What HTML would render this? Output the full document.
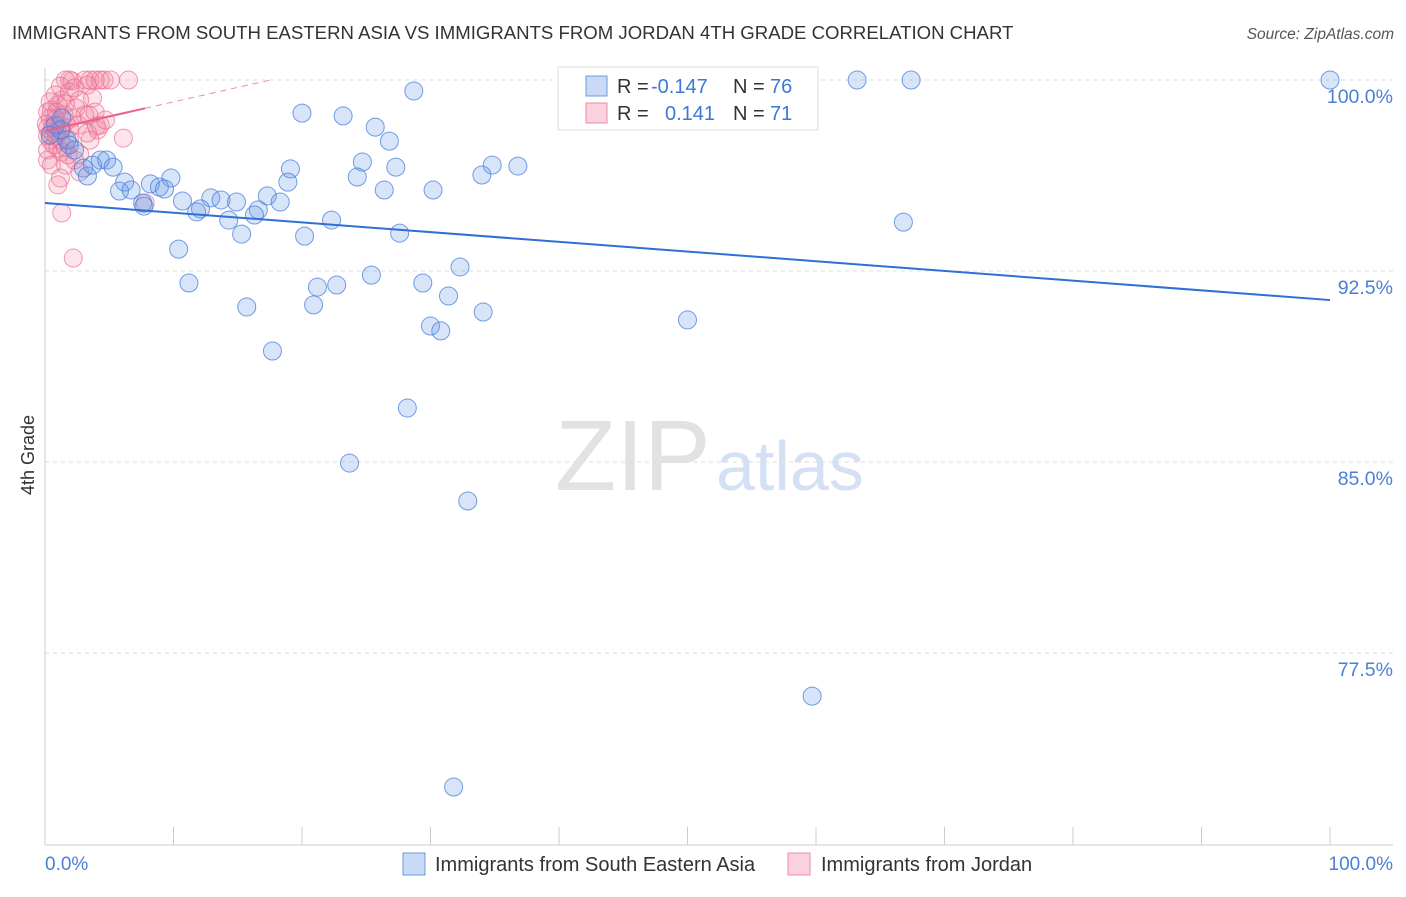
<!DOCTYPE html>
<html><head><meta charset="utf-8"><style>
body{margin:0;background:#fff;font-family:"Liberation Sans",sans-serif;}
svg text{font-family:"Liberation Sans",sans-serif;}
</style></head><body>
<svg id="chart" width="1406" height="892" xmlns="http://www.w3.org/2000/svg">
<text x="12" y="39" font-size="18.6" fill="#333">IMMIGRANTS FROM SOUTH EASTERN ASIA VS IMMIGRANTS FROM JORDAN 4TH GRADE CORRELATION CHART</text>
<text x="1394" y="39" font-size="15.5" fill="#555" font-style="italic" text-anchor="end">Source: ZipAtlas.com</text>
<text x="555" y="490" font-size="100" fill="#e2e2e2" font-family="Liberation Serif">ZIP</text>
<text x="716" y="490" font-size="70" fill="#d4e1f5">atlas</text>
<text transform="translate(34,455) rotate(-90)" font-size="18" fill="#333" text-anchor="middle">4th Grade</text>
<g id="grid"></g><g id="marks"></g>
<g>
<rect x="558" y="67" width="260" height="63" fill="#fff" stroke="#ddd"/>
<rect x="586" y="76" width="21" height="20" fill="rgba(100,150,230,0.35)" stroke="#6b9be0"/>
<text x="617" y="93" font-size="20" fill="#333">R =</text><text x="651" y="93" font-size="20" fill="#3b78d8">-0.147</text>
<text x="733" y="93" font-size="20" fill="#333">N =</text><text x="770" y="93" font-size="20" fill="#3b78d8">76</text>
<rect x="586" y="103" width="21" height="20" fill="rgba(240,130,160,0.35)" stroke="#ec8aa8"/>
<text x="617" y="120" font-size="20" fill="#333">R =</text><text x="665" y="120" font-size="20" fill="#3b78d8">0.141</text>
<text x="733" y="120" font-size="20" fill="#333">N =</text><text x="770" y="120" font-size="20" fill="#3b78d8">71</text>
</g>
<g>
<rect x="403" y="853" width="22" height="22" fill="rgba(100,150,230,0.35)" stroke="#6b9be0"/>
<text x="435" y="871" font-size="20" fill="#333">Immigrants from South Eastern Asia</text>
<rect x="788" y="853" width="22" height="22" fill="rgba(240,130,160,0.35)" stroke="#ec8aa8"/>
<text x="821" y="871" font-size="20" fill="#333">Immigrants from Jordan</text>
</g>
<text x="45" y="870" font-size="19" fill="#4a7fd6">0.0%</text>
<text x="1393" y="870" font-size="19" fill="#4a7fd6" text-anchor="end">100.0%</text>
</svg>
<script>
const yTicks=[100,92.5,85,77.5];
const yTickLabels=["100.0%","92.5%","85.0%","77.5%"];
const blueX=[100,63.2,67.4,28.7,20.0,23.2,25.7,26.8,1.7,4.3,4.8,3.0,3.3,3.7,5.3,19.1,24.7,27.3,34.8,36.8,34.0,24.3,18.9,9.8,6.2,8.2,5.8,6.7,8.9,9.3,26.4,30.2,17.3,18.3,12.9,13.7,14.9,10.7,7.6,7.7,12.1,11.8,16.6,16.3,14.3,22.3,66.8,15.3,20.2,27.6,10.4,32.3,25.4,22.7,21.2,29.4,11.2,31.4,15.7,20.9,34.1,50.0,30.0,30.8,17.7,28.2,23.7,32.9,59.7,31.8,1.2,0.8,1.9,2.3,0.4,1.3];
const blueY=[100,100,100,99.57,98.70,98.59,98.15,97.60,97.64,96.86,96.86,96.54,96.23,96.66,96.58,96.51,96.78,96.58,96.66,96.62,96.27,96.19,95.99,96.15,95.99,95.92,95.64,95.68,95.80,95.72,95.68,95.68,95.45,95.21,95.37,95.29,95.21,95.25,95.17,95.05,94.94,94.82,94.90,94.70,94.50,94.50,94.42,93.95,93.87,93.99,93.36,92.66,92.34,91.95,91.87,92.03,92.03,91.52,91.09,91.17,90.89,90.58,90.34,90.15,89.36,87.12,84.96,83.47,75.81,72.24,98.04,98.23,97.45,97.25,97.84,98.51];
const pinkX=[1.9,2.1,3.1,3.5,3.9,4.3,4.6,6.5,1.6,1.2,2.3,3.3,0.8,1.3,1.9,2.7,3.7,1.0,1.6,2.4,3.4,0.5,0.4,0.8,1.2,1.6,0.2,0.5,0.9,1.3,1.9,2.6,4.0,4.1,0.4,0.7,1.0,0.2,1.3,1.9,2.7,3.5,6.1,0.2,0.5,1.6,2.7,1.2,1.0,7.8,1.3,2.2,0.2,0.9,1.5,2.1,0.4,0.1,0.2,0.6,0.9,1.2,1.6,1.8,2.3,3.1,3.9,5.1,4.3,4.7,3.3];
const pinkY=[100,99.96,100,100,100,100,100,100,100,99.76,99.69,99.80,99.41,99.21,99.53,99.21,99.29,99.02,99.06,98.90,98.63,98.82,98.51,98.43,98.23,98.35,98.12,97.96,97.80,98.04,98.12,98.23,98.19,98.04,97.64,97.45,97.33,97.25,97.17,97.64,97.09,97.64,97.72,96.86,96.66,96.66,96.39,96.15,95.88,95.17,94.78,93.01,98.74,98.74,98.63,98.51,99.14,98.27,97.80,98.15,98.00,97.64,97.37,97.06,96.86,98.63,98.74,100,98.23,98.43,97.92];
const blueTrend=[95.17,-0.0381];
const pinkTrend=[98.0,0.114];
const xTicks=[0,10,20,30,40,50,60,70,80,90,100];
const NS="http://www.w3.org/2000/svg";
const sx=v=>45+v*12.85, sy=v=>80+(100-v)*25.47;
const grid=document.getElementById('grid'), marks=document.getElementById('marks');
function mk(tag,attrs,parent){const e=document.createElementNS(NS,tag);for(const k in attrs)e.setAttribute(k,attrs[k]);parent.appendChild(e);return e;}
yTicks.forEach((t,i)=>{
 const l=mk('line',{x1:45,x2:1393,y1:sy(t),y2:sy(t),stroke:'#ddd','stroke-dasharray':'4,4'},grid);
 
 
 const tx=mk('text',{x:1393,y:sy(t)+23,'font-size':19.5,fill:'#4a7fd6','text-anchor':'end'},grid);
 tx.textContent=yTickLabels[i];
 
 
});
const ax=mk('line',{x1:45,x2:45,y1:68,y2:845,stroke:'#ccc'},grid);


const bx=mk('line',{x1:45,x2:1393,y1:845,y2:845,stroke:'#ccc'},grid);


xTicks.forEach(t=>{
 const l=mk('line',{x1:sx(t),x2:sx(t),y1:827,y2:845,stroke:'#ccc'},grid);
 
 
});
pinkX.forEach((x,i)=>{
 const c=mk('circle',{cx:sx(x),cy:sy(pinkY[i]),r:9,fill:'rgba(240,130,160,0.22)',stroke:'rgba(236,110,150,0.7)','stroke-width':1},marks);
 
 
});
blueX.forEach((x,i)=>{
 const c=mk('circle',{cx:sx(x),cy:sy(blueY[i]),r:9,fill:'rgba(100,150,230,0.25)',stroke:'rgba(70,125,220,0.75)','stroke-width':1},marks);
 
 
});
const bl=mk('line',{x1:sx(0),y1:sy(blueTrend[0]),x2:sx(100),y2:sy(blueTrend[0]+100*blueTrend[1]),stroke:'#2f6fd6','stroke-width':2},marks);


const xEnd=Math.max(...pinkX);
const pl=mk('line',{x1:sx(0),y1:sy(pinkTrend[0]),x2:sx(xEnd),y2:sy(pinkTrend[0]+xEnd*pinkTrend[1]),stroke:'#ec5f8c','stroke-width':2},marks);


const xTop=(100-pinkTrend[0])/pinkTrend[1];
const pd=mk('line',{x1:sx(xEnd),y1:sy(pinkTrend[0]+xEnd*pinkTrend[1]),x2:sx(xTop),y2:sy(100),stroke:'#f08aa8','stroke-width':1,'stroke-dasharray':'6,5'},marks);


</script>
</body></html>
